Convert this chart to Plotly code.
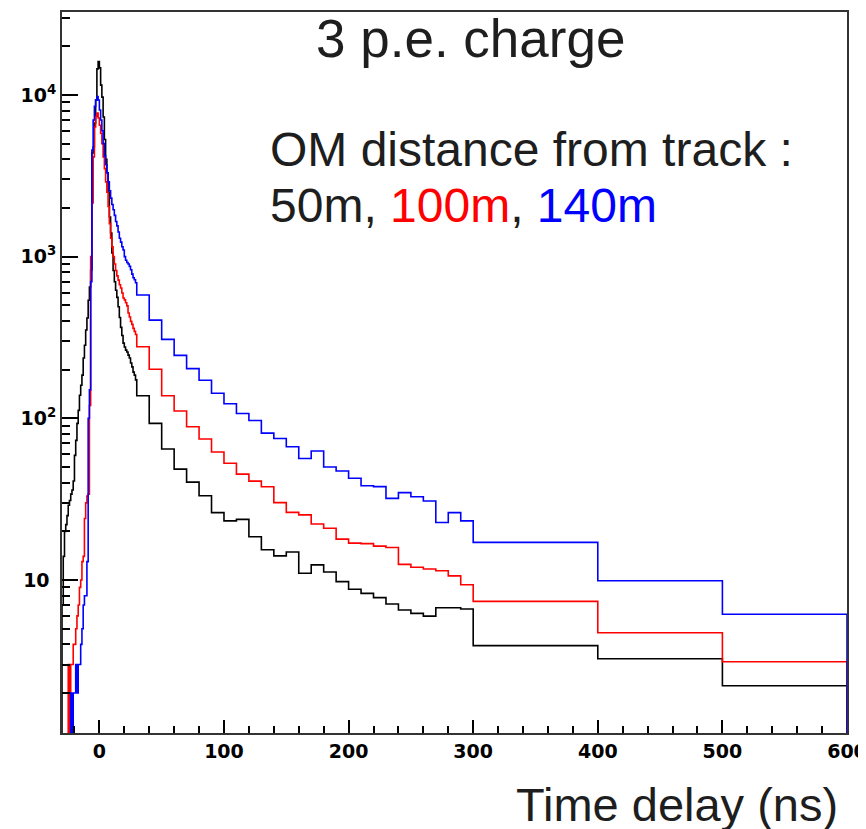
import numpy as np
import plotly.graph_objects as go

# ---- binning (ns) ----
fine_edges = list(range(-30, 30))          # 1 ns bins, -30 .. 30
coarse_edges = list(range(30, 300, 10))    # 10 ns bins, 30 .. 300
tail_edges = [300, 400, 500, 600]          # 100 ns bins, 300 .. 600
bin_edges = fine_edges + coarse_edges + tail_edges

# ---- 50 m (black) ----
black_fine = [7, 14, 20, 22, 25, 29, 31, 34, 36, 41,
              59, 73, 93, 112, 139, 160, 185, 236, 283, 352,
              417, 537, 649, 826, 4380, 4770, 6710, 9300, 14500, 16100,
              14700, 11500, 9700, 7300, 5300, 4000, 3300, 2500, 1760, 1400,
              1055, 820, 700, 620, 560, 490, 420, 365, 325, 292,
              276, 264, 257, 246, 236, 220, 208, 193, 185, 173]
black_coarse = [138, 93, 64.6, 48.5, 40.3, 33.2, 26.1, 23.2, 23.7, 18.5,
                15.4, 14.1, 14.9, 11.0, 12.4, 11.2, 9.77, 8.76, 8.27, 7.78,
                7.11, 6.52, 6.22, 5.98, 6.74, 6.74, 6.62]
black_tail = [3.93, 3.26, 2.22]

# ---- 100 m (red) ----
red_fine = [0, 0, 0, 0, 0, 3, 0, 3, 3, 4,
            4, 5, 6, 7, 9, 10, 13, 14, 24, 30,
            33, 34, 120, 1000, 2150, 4140, 6330, 7350, 7740, 7200,
            6500, 5800, 5000, 4140, 3500, 2900, 2500, 2040, 1600, 1300,
            1150, 1000, 900, 820, 760, 716, 670, 640, 596, 555,
            540, 518, 496, 448, 423, 398, 381, 360, 345, 330]
red_coarse = [277, 201, 138, 111, 88.7, 74.5, 61.9, 52.7, 45.2, 40.9,
              37.7, 30.1, 26.2, 25.3, 22.2, 20.9, 17.9, 16.9, 16.8, 16.2,
              15.9, 12.5, 12.0, 11.7, 11.4, 10.6, 9.35]
red_tail = [7.38, 4.72, 3.12]

# ---- 140 m (blue) ----
blue_fine = [0, 0, 0, 0, 0, 0, 0, 2, 0, 2,
             2, 3, 2, 3, 3, 4, 5, 7, 8, 8,
             13, 100, 150, 700, 4570, 7000, 8500, 9300, 9760, 9300,
             8070, 7000, 6000, 5000, 4200, 3700, 3300, 2900, 2550, 2300,
             2100, 1950, 1800, 1650, 1550, 1420, 1300, 1230, 1150, 1100,
             1000, 950, 920, 900, 870, 830, 780, 740, 720, 690]
blue_coarse = [579, 405, 308, 245, 203, 172, 143, 123, 107, 97,
               81, 75, 66.7, 56.4, 62.8, 50, 47.2, 42.6, 38.3, 37.8,
               32, 34.7, 32.7, 30.8, 22.7, 26.1, 23.2]
blue_tail = [17.1, 9.9, 6.14]

x_ticks = [0, 100, 200, 300, 400, 500, 600]
y_ticks = [10, 100, 1000, 10000]
y_ticktext = ["10\u00a0", "10<sup>2</sup>", "10<sup>3</sup>", "10<sup>4</sup>"]
y_minor = [m * d for d in (1, 10, 100, 1000) for m in range(2, 10)] + [20000, 30000]

FLOOR = 0.1  # empty bins are drawn below the axis minimum


def hist_trace(vals, color):
    v = np.asarray(vals, dtype=float)
    v = np.where(v > 0, v, FLOOR)
    x = [bin_edges[0]] + bin_edges + [bin_edges[-1]]
    y = [FLOOR] + list(v) + [v[-1], FLOOR]
    return go.Scatter(x=x, y=y, mode="lines", line=dict(color=color, width=1.6, shape="hv"),
                      hoverinfo="skip", showlegend=False)


fig = go.Figure()
fig.add_trace(hist_trace(black_fine + black_coarse + black_tail, "black"))
fig.add_trace(hist_trace(red_fine + red_coarse + red_tail, "#ff0000"))
fig.add_trace(hist_trace(blue_fine + blue_coarse + blue_tail, "#0000ff"))

tickfont = dict(family="DejaVu Sans", size=19, color="black", weight="bold")

# the page body adds an 8 px offset, so the figure is 8 px smaller than the window
fig.update_layout(
    width=858, height=821,
    margin=dict(l=54, r=19, t=4, b=96),
    plot_bgcolor="white", paper_bgcolor="white",
    showlegend=False,
    xaxis=dict(range=[-30, 600], tickmode="array", tickvals=x_ticks, automargin=False,
               ticklabeloverflow="allow",
               ticks="inside", ticklen=13, tickwidth=1.5, tickcolor="black",
               showline=True, linecolor="#333", linewidth=2, mirror=True,
               showgrid=False, zeroline=False, tickfont=tickfont,
               minor=dict(tick0=0, dtick=20, ticks="inside", ticklen=7,
                          tickwidth=1.5, tickcolor="black", showgrid=False)),
    yaxis=dict(type="log", range=[0.0538, 4.513], tickmode="array", automargin=False,
               tickvals=y_ticks, ticktext=y_ticktext,
               ticks="inside", ticklen=16, tickwidth=1.5, tickcolor="black",
               showline=True, linecolor="#333", linewidth=2, mirror=True,
               showgrid=False, zeroline=False, tickfont=tickfont,
               minor=dict(tickmode="array", tickvals=y_minor, ticks="inside",
                          ticklen=8, tickwidth=1.5, tickcolor="black", showgrid=False)),
)

txt = "#1e1e1e"
fig.add_annotation(xref="paper", yref="paper", x=0.521, y=0.9626, xanchor="center", yanchor="middle",
                   text="3 p.e. charge", showarrow=False,
                   font=dict(family="Liberation Sans", size=53, color=txt))
fig.add_annotation(xref="paper", yref="paper", x=0.2624, y=0.8086, xanchor="left", yanchor="middle",
                   text="OM distance from track :", showarrow=False,
                   font=dict(family="Liberation Sans", size=48, color=txt))
fig.add_annotation(xref="paper", yref="paper", x=0.2624, y=0.7323, xanchor="left", yanchor="middle",
                   text="50m, <span style='color:#ff0000'>100m</span>, <span style='color:#0000ff'>140m</span>",
                   showarrow=False, font=dict(family="Liberation Sans", size=48, color=txt))
fig.add_annotation(xref="paper", yref="paper", x=0.9911, y=-0.0985, xanchor="right", yanchor="middle",
                   text="Time delay (ns)", showarrow=False,
                   font=dict(family="Liberation Sans", size=47, color=txt))

fig.write_html("out.html")
